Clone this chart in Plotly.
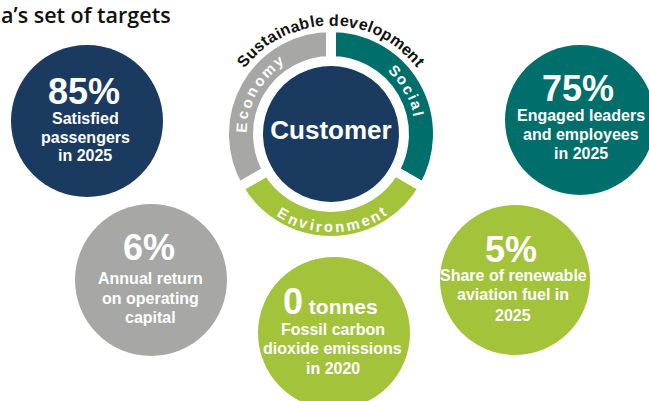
import math
import plotly.graph_objects as go

# target values shown in the five circles
target_numbers = ["85", "75", "6", "0", "5"]
target_units = ["%", "%", "%", " tonnes", "%"]
target_lines = [
    ["Satisfied", "passengers", "in 2025"],
    ["Engaged leaders", "and employees", "in 2025"],
    ["Annual return", "on operating", "capital"],
    ["Fossil carbon", "dioxide emissions", "in 2020"],
    ["Share of renewable", "aviation fuel in", "2025"],
]

# the sustainable-development ring
ring_labels = ["Social", "Environment", "Economy"]
ring_values = [1, 1, 1]
centre_label = "Customer"
ring_title = "Sustainable development"
title_text = "a\u2019s set of targets"

# layout (pixel coordinates, y downward)
W, H = 649, 401
NAVY, TEAL, GREY, GREEN = "#1a3a5f", "#006e6b", "#a7a7a6", "#a3c33a"
circle_pos = [(87, 121), (580, 120), (151, 280), (334, 333), (515, 280)]
circle_size = [152, 150, 152, 152, 150]
circle_col = [NAVY, TEAL, GREY, GREEN, GREEN]
number_pos = [(84, 91.5), (578, 88.5), (148.5, 247.5), (330, 301.5), (511, 249.5)]
line_y = [[118, 137, 155.5], [115, 134, 153], [278.5, 298, 317.5], [329, 348, 368], [275, 294, 315]]
line_x = [85, 581, 150.5, 332.5, 513]
RING_C = (331, 134)
FONT = "Arial, Liberation Sans, sans-serif"

# rough Arial Bold advance widths (em)
CW = {"S": .667, "u": .611, "s": .556, "t": .333, "a": .556, "i": .278, "n": .611,
      "b": .611, "l": .278, "e": .556, " ": .278, "d": .611, "v": .556, "o": .611,
      "p": .611, "m": .889, "E": .667, "c": .556, "y": .556, "r": .389}


def arc_text(text, r, a0, a1, size, color, outward=True):
    ws = [CW.get(ch, .556) * size for ch in text]
    arc = abs(a1 - a0) * math.pi / 180 * r
    sp = (arc - sum(ws)) / (len(text) - 1)
    sign = -1 if a1 < a0 else 1
    out, s = [], 0
    for ch, w in zip(text, ws):
        th = a0 + sign * math.degrees((s + w / 2) / r)
        x = RING_C[0] + r * math.cos(math.radians(th))
        y = RING_C[1] - r * math.sin(math.radians(th))
        ang = (90 - th) if outward else (270 - th)
        out.append(dict(x=x, y=y, text=ch, showarrow=False, textangle=ang,
                        xanchor="center", yanchor="middle",
                        font=dict(family=FONT, size=size, color=color, weight="bold")))
        s += w + sp
    return out


fig = go.Figure()

# five target circles
fig.add_trace(go.Scatter(
    x=[p[0] for p in circle_pos], y=[p[1] for p in circle_pos],
    mode="markers", hoverinfo="skip",
    marker=dict(size=circle_size, color=circle_col, line=dict(width=0), opacity=1),
))

# centre circle
fig.add_trace(go.Scatter(
    x=[331], y=[132], mode="markers+text", hoverinfo="skip",
    marker=dict(size=144, color=NAVY, line=dict(width=0)),
    text=[centre_label], textposition="middle center",
    textfont=dict(family=FONT, size=26, color="white", weight="bold"),
))

# ring as donut
R = 107
fig.add_trace(go.Pie(
    values=ring_values, labels=ring_labels, sort=False, direction="clockwise",
    rotation=0, hole=73 / R, textinfo="none", hoverinfo="skip", showlegend=False,
    marker=dict(colors=[TEAL, GREEN, GREY], line=dict(color="white", width=10)),
    domain=dict(x=[(RING_C[0] - R) / W, (RING_C[0] + R) / W],
                y=[(H - RING_C[1] - R) / H, (H - RING_C[1] + R) / H]),
))

ann = []
for i in range(5):
    if target_units[i] == "%":
        txt = target_numbers[i] + "%"
        fsize = 36
    else:
        txt = "<span style='font-size:36px'>" + target_numbers[i] + "</span>" + target_units[i]
        fsize = 21
    ann.append(dict(x=number_pos[i][0], y=number_pos[i][1], text=txt, showarrow=False,
                    xanchor="center", yanchor="middle",
                    font=dict(family=FONT, size=fsize, color="white", weight="bold")))
    for line, ly in zip(target_lines[i], line_y[i]):
        ann.append(dict(x=line_x[i], y=ly, text=line, showarrow=False,
                        xanchor="center", yanchor="middle",
                        font=dict(family=FONT, size=16, color="white", weight="bold")))

ann += arc_text(ring_title, 114, 142.5, 37.5, 16, "#111111")
ann += arc_text("Economy", 90, 179, 123, 15, "white")
ann += arc_text("Social", 90, 48, 12, 15, "white")
ann += arc_text("Environment", 93, 236, 305, 15, "white", outward=False)

ann.append(dict(x=173, y=14, text=title_text, showarrow=False, xanchor="right", yanchor="middle",
                font=dict(family="Open Sans", size=21.5, color="#111111", weight=600)))

fig.update_layout(
    width=W, height=H, margin=dict(l=0, r=0, t=0, b=0),
    paper_bgcolor="white", plot_bgcolor="white", showlegend=False,
    xaxis=dict(range=[0, W], visible=False, fixedrange=True),
    yaxis=dict(range=[H, 0], visible=False, fixedrange=True),
    annotations=ann, hovermode=False,
)

fig.write_html("out.html", config={"displayModeBar": False},
               post_script="document.body.style.margin='0';")
